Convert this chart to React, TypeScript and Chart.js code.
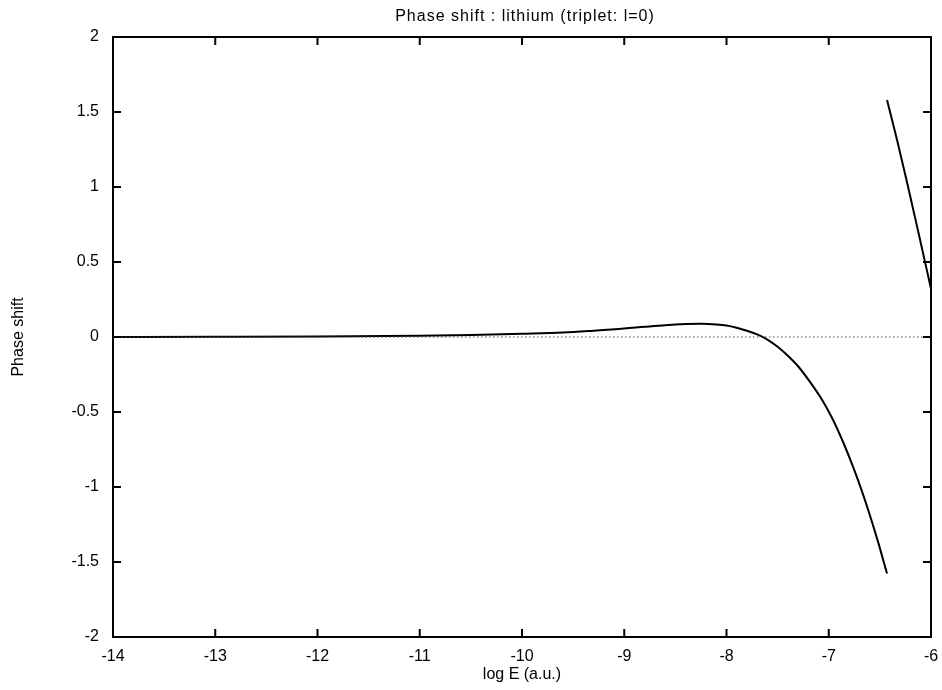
import React, { useEffect, useRef } from "react";
import { Chart, registerables } from "chart.js";

Chart.register(...registerables);

const TITLE = "Phase shift : lithium (triplet: l=0)";
const X_TITLE = "log E (a.u.)";
const Y_TITLE = "Phase shift";

const xTicks = [-14, -13, -12, -11, -10, -9, -8, -7, -6];
const yTicks = [-2, -1.5, -1, -0.5, 0, 0.5, 1, 1.5, 2];

// lower branch
const branch1X = [-14, -13, -12, -11, -10.5, -10, -9.6, -9.3, -9, -8.8, -8.6, -8.4, -8.25, -8.1, -8, -7.9, -7.8, -7.7, -7.6, -7.5, -7.4, -7.3, -7.18, -7.06, -6.96, -6.86, -6.76, -6.68, -6.6, -6.52, -6.43];
const branch1Y = [0, 0.001, 0.003, 0.009, 0.014, 0.022, 0.03, 0.042, 0.056, 0.068, 0.079, 0.086, 0.088, 0.084, 0.077, 0.062, 0.042, 0.017, -0.017, -0.065, -0.125, -0.195, -0.303, -0.425, -0.55, -0.7, -0.869, -1.019, -1.183, -1.361, -1.577];

// upper branch (after the jump)
const branch2X = [-6.43, -6.33, -6.23, -6.13, -6.0];
const branch2Y = [1.58, 1.308, 1.018, 0.718, 0.322];

// zero reference line
const zeroX = [-14, -6];
const zeroY = [0, 0];

const FONT = "'Liberation Sans', Arial, Helvetica, sans-serif";

const toPts = (xs: number[], ys: number[]) => xs.map((x, i) => ({ x, y: ys[i] }));

const framePlugin = {
  id: "frame",
  afterDraw(chart: any) {
    const { ctx, chartArea } = chart;
    const { left, right, top, bottom } = chartArea;
    const xs = chart.scales.x;
    const ys = chart.scales.y;
    ctx.save();
    ctx.strokeStyle = "#000";
    ctx.lineWidth = 2;
    ctx.strokeRect(left, top, right - left, bottom - top);
    const tl = 8;
    ctx.beginPath();
    xs.ticks.forEach((t: any) => {
      const p = xs.getPixelForValue(t.value);
      ctx.moveTo(p, bottom);
      ctx.lineTo(p, bottom - tl);
      ctx.moveTo(p, top);
      ctx.lineTo(p, top + tl);
    });
    ys.ticks.forEach((t: any) => {
      const p = ys.getPixelForValue(t.value);
      ctx.moveTo(left, p);
      ctx.lineTo(left + tl, p);
      ctx.moveTo(right, p);
      ctx.lineTo(right - tl, p);
    });
    ctx.stroke();
    // title
    ctx.fillStyle = "#000";
    ctx.font = `16px ${FONT}`;
    ctx.letterSpacing = "1px";
    ctx.textAlign = "center";
    ctx.textBaseline = "alphabetic";
    ctx.fillText(TITLE, (left + right) / 2 + 3, 21);
    ctx.restore();
  },
};

export default function App() {
  const ref = useRef<HTMLCanvasElement | null>(null);
  useEffect(() => {
    if (!ref.current) return;
    const chart = new Chart(ref.current, {
      type: "line",
      data: {
        datasets: [
          {
            data: toPts(zeroX, zeroY),
            borderColor: "#444",
            borderWidth: 1,
            borderDash: [1.5, 2.5],
            pointRadius: 0,
            fill: false,
          },
          {
            data: toPts(branch1X, branch1Y),
            borderColor: "#000",
            borderWidth: 2,
            pointRadius: 0,
            cubicInterpolationMode: "monotone",
            fill: false,
          },
          {
            data: toPts(branch2X, branch2Y),
            borderColor: "#000",
            borderWidth: 2,
            pointRadius: 0,
            cubicInterpolationMode: "monotone",
            fill: false,
          },
        ],
      },
      options: {
        responsive: false,
        animation: false,
        devicePixelRatio: 1,
        layout: { padding: { top: 37, right: 11, bottom: 0, left: 0 } },
        plugins: { legend: { display: false }, tooltip: { enabled: false }, title: { display: false } },
        scales: {
          x: {
            type: "linear",
            min: -14,
            max: -6,
            afterFit: (s: any) => {
              s.height = 53;
              s.paddingLeft = 0;
              s.paddingRight = 0;
            },
            afterBuildTicks: (s: any) => {
              s.ticks = xTicks.map((v) => ({ value: v }));
            },
            grid: { display: false, drawTicks: false },
            border: { display: false },
            ticks: {
              color: "#000",
              font: { family: FONT, size: 16 },
              padding: 10,
              maxRotation: 0,
              autoSkip: false,
              callback: (v: any) => String(v),
            },
            title: { display: true, text: X_TITLE, color: "#000", font: { family: FONT, size: 16 }, padding: { top: 0, bottom: 6 } },
          },
          y: {
            type: "linear",
            min: -2,
            max: 2,
            afterFit: (s: any) => {
              s.width = 113;
              s.paddingTop = 0;
              s.paddingBottom = 0;
            },
            afterBuildTicks: (s: any) => {
              s.ticks = yTicks.map((v) => ({ value: v }));
            },
            grid: { display: false, drawTicks: false },
            border: { display: false },
            ticks: {
              color: "#000",
              font: { family: FONT, size: 16 },
              padding: 14,
              autoSkip: false,
              callback: (v: any) => String(v),
            },
            title: { display: true, text: Y_TITLE, color: "#000", font: { family: FONT, size: 16 }, padding: { top: 9, bottom: 0 } },
          },
        },
      },
      plugins: [framePlugin],
    } as any);
    return () => chart.destroy();
  }, []);
  return (
    <div style={{ position: "absolute", left: 0, top: 0, width: 942, height: 690, background: "#fff" }}>
      <canvas ref={ref} width={942} height={690} />
    </div>
  );
}
